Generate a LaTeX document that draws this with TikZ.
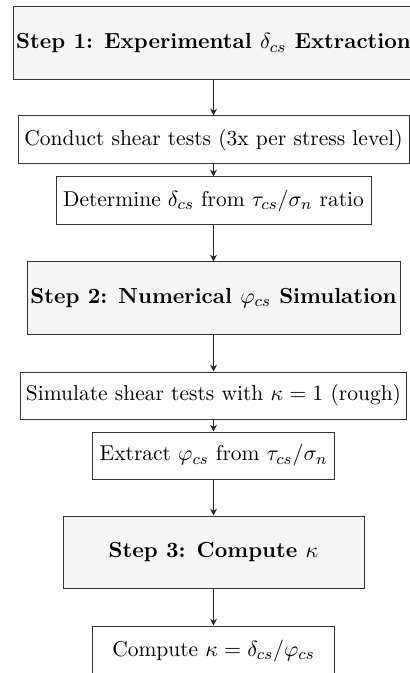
\documentclass[tikz,border=0pt]{standalone}
\usepackage{amsmath}
\usetikzlibrary{arrows.meta}
\tikzset{
  base/.style={draw=black!80, line width=0.5pt, inner sep=0pt, align=center,
    font=\fontsize{10.75pt}{13pt}\selectfont},
  stepbox/.style 2 args={base, fill=black!4, minimum width=#1*0.5pt, minimum height=#2*0.5pt,
    font=\fontsize{10.9pt}{13pt}\selectfont\bfseries},
  taskbox/.style 2 args={base, fill=white, minimum width=#1*0.5pt, minimum height=#2*0.5pt},
  flow/.style={draw=black!85, line width=0.6pt, -{Stealth[length=3.4pt,width=3.4pt]}}
}
\begin{document}
\begin{tikzpicture}[x=0.5pt,y=-0.5pt]
  \useasboundingbox (0,0) rectangle (410,673);
  \clip (0,0) rectangle (410,673);

  % Step 1: experimental extraction
  \node[stepbox={400}{73}] (s1) at (213.5,43.5)
    {Step 1: Experimental $\delta_{cs}$ Extraction};
  \node[taskbox={391}{48}] (c1) at (213.5,140)
    {Conduct shear tests (3x per stress level)};
  \node[taskbox={315}{48}] (d1) at (213.5,201)
    {Determine $\delta_{cs}$ from $\tau_{cs}/\sigma_n$ ratio};

  % Step 2: numerical simulation
  \node[stepbox={373}{72}] (s2) at (213.5,298)
    {Step 2: Numerical $\varphi_{cs}$ Simulation};
  \node[taskbox={386}{47}] (m1) at (213.5,395.5)
    {Simulate shear tests with $\kappa = 1$ (rough)};
  \node[taskbox={242}{47}] (e1) at (213.5,455.5)
    {Extract $\varphi_{cs}$ from $\tau_{cs}/\sigma_n$};

  % Step 3: compute kappa
  \node[stepbox={301}{72}] (s3) at (213.5,552)
    {Step 3: Compute $\kappa$};
  \node[taskbox={242}{50}] (k1) at (213.5,651)
    {Compute $\kappa = \delta_{cs}/\varphi_{cs}$};

  \draw[flow] (s1) -- (c1);
  \draw[flow] (c1) -- (d1);
  \draw[flow] (d1) -- (s2);
  \draw[flow] (s2) -- (m1);
  \draw[flow] (m1) -- (e1);
  \draw[flow] (e1) -- (s3);
  \draw[flow] (s3) -- (k1);
\end{tikzpicture}
\end{document}
